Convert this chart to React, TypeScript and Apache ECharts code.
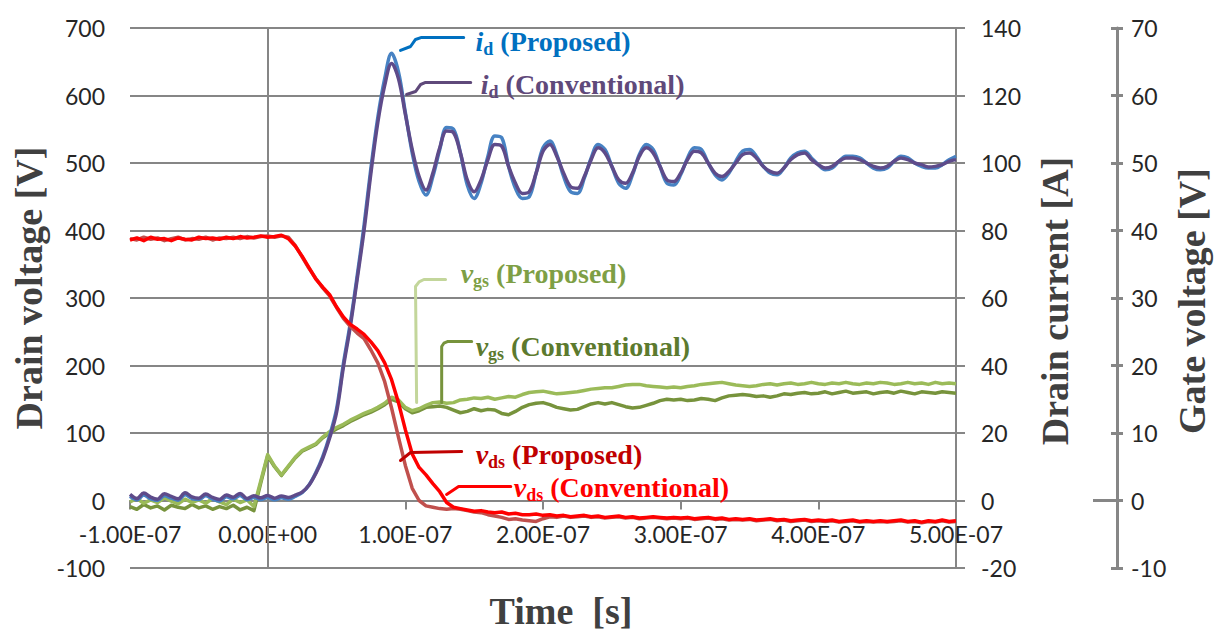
import { useEffect, useRef } from "react";
import * as echarts from "echarts";

// Time in ns (-1.00E-07 s .. 5.00E-07 s)
const timeNs = [
  -100, -95, -90, -85, -80, -75, -70, -65, -60, -55,
  -50, -45, -40, -35, -30, -25, -20, -15, -10, -5,
  0, 5, 10, 15, 20, 25, 30, 35, 40, 45,
  50, 55, 60, 65, 70, 75, 80, 85, 90, 95,
  100, 105, 110, 115, 120, 125, 130, 135, 140, 145,
  150, 155, 160, 165, 170, 175, 180, 185, 190, 195,
  200, 205, 210, 215, 220, 225, 230, 235, 240, 245,
  250, 255, 260, 265, 270, 275, 280, 285, 290, 295,
  300, 305, 310, 315, 320, 325, 330, 335, 340, 345,
  350, 355, 360, 365, 370, 375, 380, 385, 390, 395,
  400, 405, 410, 415, 420, 425, 430, 435, 440, 445,
  450, 455, 460, 465, 470, 475, 480, 485, 490, 495,
  500,
];

// Drain voltage [V]
const vdsConventional = [
  386, 389, 385, 390, 387, 388, 385, 389, 387, 386,
  390, 388, 389, 387, 390, 388, 391, 389, 390, 392,
  390, 391, 393, 388, 377, 362, 345, 328, 316, 305,
  287, 272, 261, 254, 246, 235, 222, 204, 179, 145,
  105, 69, 49, 38, 25, 13, -3, -10, -12, -14,
  -16, -15, -17, -18, -17, -20, -19, -21, -21, -20,
  -22, -21, -23, -22, -24, -23, -22, -24, -23, -25,
  -24, -23, -25, -24, -26, -25, -24, -25, -26, -25,
  -26, -25, -27, -26, -25, -27, -26, -28, -27, -28,
  -27, -29, -28, -27, -29, -28, -30, -29, -28, -30,
  -29, -30, -29, -31, -30, -29, -31, -30, -31, -30,
  -31, -30, -29, -31, -30, -32, -30, -31, -29, -31,
  -30,
];
const vdsProposed = [
  388, 386, 390, 387, 389, 385, 388, 390, 386, 388,
  387, 390, 386, 389, 388, 390, 388, 391, 389, 391,
  392, 390, 392, 390, 378, 361, 344, 329, 315, 303,
  286, 270, 258, 248, 240, 223, 204, 176, 137, 94,
  52, 18, 0, -8, -10, -12, -13, -12, -13, -15,
  -17, -18, -21, -23, -25, -28, -27, -29, -30, -31,
  -27, -24, -25, -23, -25, -24, -23, -25, -24, -26,
  -25, -24, -26, -25, -27, -26, -25, -26, -27, -26,
  -27, -26, -28, -27, -26, -28, -27, -29, -28, -29,
  -28, -30, -29, -28, -30, -29, -31, -30, -29, -31,
  -30, -31, -30, -32, -31, -30, -32, -31, -32, -31,
  -32, -31, -30, -32, -31, -33, -31, -32, -30, -32,
  -31,
];

// Drain current [A]
const idConventional = [
  1.8, 0.6, 2.2, 1.0, 0.4, 2.0, 1.2, 0.5, 2.3, 1.1,
  0.7, 1.9, 0.9, 0.3, 1.6, 1.0, 2.1, 0.6, 1.4, 0.8,
  1.5, 0.7, 1.3, 0.9, 1.6, 2.5, 4.5, 8.0, 12.5, 18.5,
  26, 39.5, 51.5, 65.5, 80, 97, 112, 123, 129.5, 125,
  114.5, 104, 96, 92, 97, 104.5, 109.5, 109, 103, 95,
  91.5, 95, 101, 105.5, 105, 99, 94, 91, 91.5, 97,
  103.5, 105.5, 102, 97, 93, 92.5, 96, 101, 104.5, 103,
  99, 95, 94, 97, 102, 104.5, 103, 99, 95, 94.5,
  97, 101, 103.5, 103, 100, 97, 96, 97.5, 100, 102.5,
  103, 101.5, 99, 97.5, 97, 98.5, 101, 102.5, 103, 101,
  99.5, 98.5, 99, 100.5, 101.5, 101.5, 101, 100, 99, 98.5,
  99, 100.5, 101.5, 101, 100, 99.5, 98.8, 99, 99.5, 100.5,
  101,
];
const idProposed = [
  1.2, 0.2, 1.6, 0.5, 0.0, 1.4, 0.7, 0.1, 1.7, 0.6,
  0.3, 1.4, 0.4, -0.2, 1.1, 0.5, 1.5, 0.2, 0.9, 0.3,
  0.9, 0.2, 0.8, 0.4, 1.2, 2.3, 4.6, 8.3, 13.0, 19.2,
  27, 40.5, 52.5, 66.5, 81.5, 98.5, 113.5, 125, 132.5, 127,
  115, 103, 94.5, 90.5, 96, 104, 110.5, 110, 103, 93.5,
  89.5, 94, 102, 108, 107.5, 99, 92.5, 89.5, 90, 97,
  104.5, 106.5, 102.5, 96, 91.5, 91, 95.5, 101.5, 105.5, 104,
  99, 94, 92.5, 96.5, 102.5, 105.5, 104, 99, 94, 93.5,
  96.5, 101.5, 104.5, 104, 100, 96.5, 95, 97, 100.5, 103.5,
  104, 102, 99, 97, 96.5, 98.5, 101.5, 103, 103.5, 101.5,
  99.5, 98, 98.5, 100.5, 102, 102, 101.5, 100, 98.5, 98,
  98.5, 100.5, 102, 101.5, 100, 99, 98.5, 98.5, 99.5, 101,
  102,
];

// Gate voltage [V]
const vgsConventional = [
  -0.9, -1.3, -0.6, -1.1, -0.8, -1.4, -0.7, -1.0, -1.2, -0.6,
  -1.1, -0.8, -1.3, -0.9, -1.2, -0.7, -1.4, -1.0, -1.5, 2.6,
  6.6, 5.0, 3.7, 5.0, 6.3, 7.3, 7.8, 8.3, 9.3, 10.0,
  10.6, 11.1, 11.7, 12.2, 12.7, 13.1, 13.6, 14.2, 15.0, 14.6,
  13.6, 13.0, 13.3, 13.8, 13.9, 14.0, 13.8, 13.4, 13.0, 13.2,
  13.6, 13.3, 13.5, 13.4, 12.9, 12.7, 13.2, 13.8, 14.2, 14.4,
  14.5, 14.2, 13.8, 13.6, 13.4, 13.5, 13.9, 14.3, 14.5, 14.3,
  14.5, 14.2, 13.9, 13.7, 13.8, 14.1, 14.4, 14.8, 15.0, 14.9,
  15.0, 14.8, 14.9, 15.1, 15.0, 14.8, 15.2, 15.5, 15.6, 15.7,
  15.6, 15.4, 15.5, 15.3, 15.5, 15.8, 15.7, 15.9, 16.0, 15.8,
  15.9, 16.1, 15.8, 16.0, 16.2, 15.9, 16.0, 16.1, 15.8, 16.0,
  16.1, 15.9, 16.2, 16.0, 15.8, 16.1, 16.0, 15.9, 16.1, 16.0,
  15.9,
];
const vgsProposed = [
  -0.2, 0.3, -0.4, 0.1, -0.3, 0.4, -0.1, -0.5, 0.2, -0.3,
  0.1, -0.4, 0.3, -0.2, -0.6, 0.2, -0.3, 0.1, -0.9, 2.9,
  6.8, 5.1, 3.8, 5.1, 6.4, 7.4, 7.9, 8.4, 9.4, 10.2,
  10.8, 11.3, 11.9, 12.4, 12.9, 13.3, 13.8, 14.4, 15.3, 14.9,
  13.8, 13.3, 13.6, 14.1, 14.5, 14.6, 14.4, 14.5, 14.9, 15.0,
  15.2, 15.1, 15.3, 15.0, 15.2, 15.4, 15.3, 15.7, 16.0, 16.1,
  16.2, 16.0, 15.8, 15.9, 16.0, 16.1, 16.3, 16.5, 16.6, 16.7,
  16.7, 16.9, 17.1, 17.2, 17.2, 17.0, 16.9, 16.8, 16.7, 16.8,
  16.7, 16.9, 17.0, 17.2, 17.3, 17.4, 17.5, 17.3, 17.1, 17.0,
  16.9, 17.0, 17.2, 17.3, 17.1, 17.3, 17.4, 17.2, 17.3, 17.5,
  17.3, 17.2, 17.4, 17.3, 17.5, 17.3, 17.2, 17.4, 17.3, 17.5,
  17.4, 17.2, 17.3, 17.5, 17.3, 17.4, 17.2, 17.5, 17.3, 17.4,
  17.3,
];

// Axis titles
const titleLeft = "Drain voltage [V]";
const titleRight1 = "Drain current [A]";
const titleRight2 = "Gate voltage [V]";
const titleX = "Time  [s]";

// Annotations, anchored in (time ns, drain-voltage-axis units)
type Anno = {
  v: string;
  sub: string;
  label: string;
  color: string;
  lineColor: string;
  at: [number, number];
  leader: [number, number][];
};
const annotations: Anno[] = [
  {
    v: "i", sub: "d", label: "(Proposed)", color: "#0070C0", lineColor: "#0070C0",
    at: [151, 680],
    leader: [[96.5, 666.7], [103.8, 672.6], [107.4, 683], [111.8, 686], [142.4, 686]],
  },
  {
    v: "i", sub: "d", label: "(Conventional)", color: "#5F497A", lineColor: "#5F497A",
    at: [154.8, 616],
    leader: [[100.9, 601.5], [107.4, 605.9], [111.1, 616.3], [114.7, 619.3], [147.5, 619.3]],
  },
  {
    v: "v", sub: "gs", label: "(Proposed)", color: "#7E9F45", lineColor: "#C3D69B",
    at: [140.2, 336],
    leader: [[108.2, 145.2], [107.4, 317], [110, 324], [113.5, 327.4], [129.2, 327.4]],
  },
  {
    v: "v", sub: "gs", label: "(Conventional)", color: "#5C7A2E", lineColor: "#77933C",
    at: [151.1, 228],
    leader: [[126.4, 145.2], [126.4, 228.1], [128, 233], [131, 235.6], [148.2, 235.6]],
  },
  {
    v: "v", sub: "ds", label: "(Proposed)", color: "#C00000", lineColor: "#C00000",
    at: [151.1, 68],
    leader: [[96.5, 59.3], [103.8, 71.1], [140.9, 72.6]],
  },
  {
    v: "v", sub: "ds", label: "(Conventional)", color: "#FF0000", lineColor: "#FF0000",
    at: [178.8, 19],
    leader: [[130, 8.9], [138.7, 20.7], [176.6, 20.7]],
  },
];

const axisGray = "#868686";
const tickFont = "Lato, 'Open Sans', sans-serif";
const serif = "'Liberation Serif', 'Times New Roman', serif";

function fmtTime(v: number) {
  if (v === 0) return "0.00E+00";
  return (v / 100).toFixed(2) + "E-07";
}

function zip(vals: number[]) {
  return timeNs.map((t, i) => [t, vals[i]]);
}

export default function App() {
  const ref = useRef<HTMLDivElement>(null);

  useEffect(() => {
    if (!ref.current) return;
    const chart = echarts.init(ref.current, undefined, { renderer: "svg" });

    const gridTop = 28;
    const gridBottom = 65;
    const gridH = 633 - gridTop - gridBottom;
    const yMin = -100;
    const yMax = 700;
    // distance from bottom of grid to the zero line of the drain-voltage axis
    const zeroOffset = (gridH * (0 - yMin)) / (yMax - yMin);

    const labelStyle = { fontSize: 23, fontFamily: tickFont, color: "#262626" };
    const lineSeries = (name: string, data: number[], color: string, yAxisIndex: number, extra: any = {}) => ({
      name,
      type: "line",
      data: zip(data),
      yAxisIndex,
      showSymbol: false,
      symbol: "none",
      lineStyle: { color, width: 3.5, join: "round" },
      itemStyle: { color },
      ...extra,
    });

    const option: any = {
      animation: false,
      backgroundColor: "#ffffff",
      grid: { left: 130, right: 258, top: gridTop, bottom: gridBottom, containLabel: false },
      xAxis: {
        type: "value",
        min: -100,
        max: 500,
        interval: 100,
        position: "bottom",
        offset: -zeroOffset,
        axisLine: { show: true, onZero: false, lineStyle: { color: axisGray, width: 2 } },
        axisTick: { show: true, length: 9, lineStyle: { color: axisGray, width: 2 } },
        axisLabel: { ...labelStyle, formatter: fmtTime, margin: 22, showMinLabel: true, showMaxLabel: true },
        splitLine: { show: false },
      },
      yAxis: [
        {
          type: "value", position: "left", min: yMin, max: yMax, interval: 100,
          axisLine: { show: false, onZero: false },
          axisTick: { show: false },
          axisLabel: { ...labelStyle, margin: 25 },
          splitLine: { show: true, lineStyle: { color: axisGray, width: 2 } },
        },
        {
          type: "value", position: "right", min: -20, max: 140, interval: 20,
          axisLine: { show: true, onZero: false, lineStyle: { color: axisGray, width: 2 } },
          axisTick: { show: true, inside: false, length: 9, lineStyle: { color: axisGray, width: 2 } },
          axisLabel: { ...labelStyle, margin: 25 },
          splitLine: { show: false },
        },
        {
          type: "value", position: "right", offset: 161, min: -10, max: 70, interval: 10,
          axisLine: { show: true, onZero: false, lineStyle: { color: axisGray, width: 3 } },
          axisTick: { show: true, inside: true, length: 6, lineStyle: { color: axisGray, width: 3 } },
          axisLabel: { ...labelStyle, margin: 14 },
          splitLine: { show: false },
        },
        {
          type: "value", position: "right", offset: 161, min: -10, max: 70, interval: 10,
          axisLine: { show: false, onZero: false },
          axisTick: { show: true, inside: false, length: 6, lineStyle: { color: axisGray, width: 3 } },
          axisLabel: { show: false },
          splitLine: { show: false },
        },
      ],
      series: [
        lineSeries("vgs (Conventional)", vgsConventional, "#77933C", 2, {
          markLine: {
            silent: true,
            z: 1,
            symbol: ["none", "none"],
            label: { show: false },
            lineStyle: { color: axisGray, width: 2, type: "solid" },
            data: [{ xAxis: 0 }],
          },
        }),
        lineSeries("vgs (Proposed)", vgsProposed, "#9BBB59", 2),
        lineSeries("id (Proposed)", idProposed, "#4782C3", 1, { smooth: 0.35 }),
        lineSeries("id (Conventional)", idConventional, "#5E4B8A", 1, { smooth: 0.35 }),
        lineSeries("vds (Proposed)", vdsProposed, "#C0504D", 0),
        lineSeries("vds (Conventional)", vdsConventional, "#FF0000", 0),
      ],
    };
    chart.setOption(option);

    const toPx = (p: [number, number]) =>
      chart.convertToPixel({ xAxisIndex: 0, yAxisIndex: 0 }, p) as number[];
    const origin = toPx([500, 0]);
    const gateX = origin[0] + 161;

    const graphics: any[] = [];
    const title = (text: string, x: number, y: number, rot: number) => ({
      type: "text",
      x,
      y,
      rotation: rot,
      silent: true,
      style: {
        text,
        fontSize: 38,
        fontWeight: "bold",
        fontFamily: serif,
        fill: "#404040",
        align: "center",
        verticalAlign: "middle",
      },
    });
    graphics.push(title(titleLeft, 29, 288, Math.PI / 2));
    graphics.push(title(titleRight1, 1055, 301, Math.PI / 2));
    graphics.push(title(titleRight2, 1192, 301, Math.PI / 2));
    graphics.push(title(titleX, 561, 611, 0));

    graphics.push({
      type: "line",
      silent: true,
      shape: { x1: gateX - 24, y1: origin[1], x2: gateX, y2: origin[1] },
      style: { stroke: axisGray, lineWidth: 3 },
    });

    annotations.forEach((a) => {
      graphics.push({
        type: "polyline",
        silent: true,
        z: 10,
        shape: { points: a.leader.map((p) => toPx(p)) },
        style: { stroke: a.lineColor, lineWidth: 3, fill: null, lineJoin: "round", lineCap: "round" },
      });
      const p = toPx(a.at);
      graphics.push({
        type: "text",
        silent: true,
        z: 10,
        x: p[0],
        y: p[1],
        style: {
          text: `{v|${a.v}}{s|${a.sub}}{t| ${a.label}}`,
          align: "left",
          verticalAlign: "middle",
          rich: {
            v: { fontSize: 28, fontStyle: "italic", fontWeight: "bold", fontFamily: serif, fill: a.color, lineHeight: 32, verticalAlign: "middle" },
            s: { fontSize: 18, fontWeight: "bold", fontFamily: serif, fill: a.color, lineHeight: 18, verticalAlign: "bottom" },
            t: { fontSize: 28, fontWeight: "bold", fontFamily: serif, fill: a.color, lineHeight: 32, verticalAlign: "middle" },
          },
        },
      });
    });

    chart.setOption({ graphic: graphics });

    return () => {
      chart.dispose();
    };
  }, []);

  return (
    <div
      ref={ref}
      style={{ position: "fixed", left: 0, top: 0, width: 1214, height: 633, background: "#fff" }}
    />
  );
}
